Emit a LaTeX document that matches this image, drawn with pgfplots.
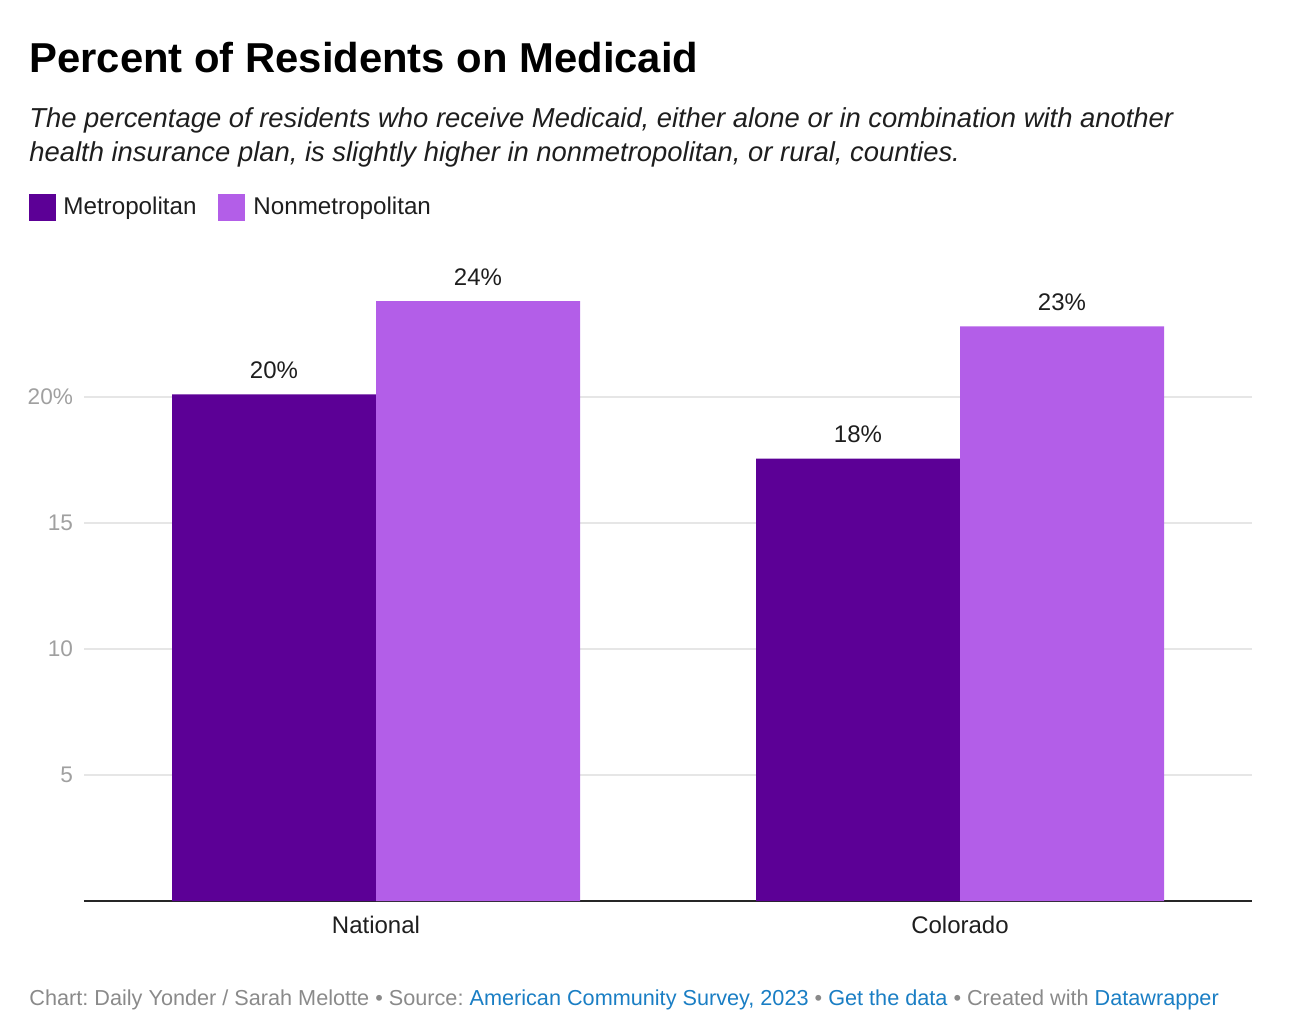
\documentclass[border=0pt]{standalone}
\usepackage{pgfplots}
\pgfplotsset{compat=1.18}
\usepackage{fontspec}
\setmainfont{Liberation Sans}
\definecolor{metro}{HTML}{5C0096}
\definecolor{nonmetro}{HTML}{B35EE8}
\definecolor{tickgray}{HTML}{A0A0A0}
\definecolor{gridgray}{HTML}{E6E6E6}
\definecolor{footgray}{HTML}{8A8A8A}
\definecolor{linkblue}{HTML}{1A7EC4}
\definecolor{txt}{HTML}{1E1E1E}
\frenchspacing
\begin{document}
\begin{tikzpicture}
\path[use as bounding box] (0,0) rectangle (647.5pt,-518pt);
\node[anchor=base west, inner sep=0pt, text=black, font=\bfseries\fontsize{20.9}{25}\selectfont] at (14.5pt,-36.5pt) {Percent of Residents on Medicaid};
\node[anchor=base west, inner sep=0pt, text=txt, font=\itshape\fontsize{13.7}{16}\selectfont] at (14.5pt,-64pt) {The percentage of residents who receive Medicaid, either alone or in combination with another};
\node[anchor=base west, inner sep=0pt, text=txt, font=\itshape\fontsize{13.7}{16}\selectfont] at (14.5pt,-81pt) {health insurance plan, is slightly higher in nonmetropolitan, or rural, counties.};
\fill[metro] (14.5pt,-97pt) rectangle (28pt,-110.5pt);
\node[anchor=base west, inner sep=0pt, text=txt, font=\fontsize{12.1}{14}\selectfont] at (31.5pt,-107.5pt) {Metropolitan};
\fill[nonmetro] (109pt,-97pt) rectangle (122.5pt,-110.5pt);
\node[anchor=base west, inner sep=0pt, text=txt, font=\fontsize{12.1}{14}\selectfont] at (126.5pt,-107.5pt) {Nonmetropolitan};
\begin{axis}[
  at={(42pt,-450.5pt)}, anchor=south west,
  scale only axis, width=584pt, height=315pt,
  xmin=-0.5, xmax=1.5, ymin=0, ymax=25,
  ybar=0pt, bar width=102pt,
  xtick={0,1}, xticklabels={National,Colorado},
  ytick={5,10,15,20}, yticklabels={5,10,15,20\%},
  axis x line*=bottom, axis y line*=left,
  y axis line style={draw=none},
  x axis line style={draw=black!85, line width=1pt, -},
  major tick length=0pt,
  ymajorgrids, grid style={draw=gridgray, line width=0.8pt},
  yticklabel style={font=\fontsize{11.3}{13}\selectfont, text=tickgray, xshift=-2pt},
  xticklabel style={font=\fontsize{12}{14}\selectfont, text=txt, yshift=-4pt},
  /pgf/number format/assume math mode=true,
  nodes near coords={\pgfmathprintnumber[fixed,precision=0,assume math mode=true]{\pgfplotspointmeta}\%},
  nodes near coords style={font=\fontsize{12}{14}\selectfont, text=txt, anchor=south, yshift=4.5pt},
  clip=false,
]
\addplot[fill=metro, draw=none] coordinates {(0,20.1) (1,17.55)};
\addplot[fill=nonmetro, draw=none] coordinates {(0,23.8) (1,22.8)};
\end{axis}
\node[anchor=base west, inner sep=0pt, font=\fontsize{10.83}{12}\selectfont] at (14.5pt,-502.5pt) {{\color{footgray}Chart: Daily Yonder / Sarah Melotte • Source:} {\color{linkblue}American Community Survey, 2023} {\color{footgray}•} {\color{linkblue}Get the data} {\color{footgray}• Created with} {\color{linkblue}Datawrapper}};
\end{tikzpicture}
\end{document}
